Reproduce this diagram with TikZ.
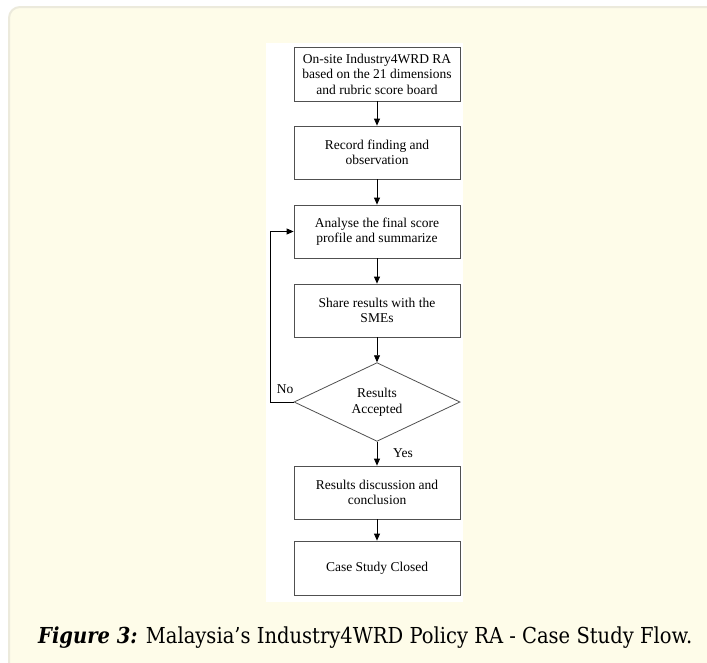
\documentclass[tikz,border=0pt]{standalone}
\usepackage{fontspec}
\setmainfont{Liberation Serif}
\newfontfamily\capfont{DejaVu Serif}
\usepackage{graphicx}
\usetikzlibrary{shapes.geometric,arrows.meta}
\definecolor{cream}{HTML}{FEFCE9}
\definecolor{creamedge}{HTML}{ECEADC}
\definecolor{boxedge}{HTML}{505050}
\tikzset{
  stepbox/.style={rectangle, draw=boxedge, line width=0.8pt, fill=white,
    minimum width=166pt, minimum height=53pt, align=center, inner sep=2pt,
    font=\fontsize{13.5}{15.5}\selectfont},
  decbox/.style={diamond, draw=boxedge, line width=0.8pt, fill=white,
    minimum width=166pt, minimum height=78pt, inner sep=0pt, align=center,
    font=\fontsize{13.5}{15.5}\selectfont},
  arr/.style={draw=black, line width=0.8pt, -{Triangle[length=7pt,width=6pt]}},
  lbl/.style={font=\fontsize{13.5}{15.5}\selectfont, inner sep=0pt}
}
\begin{document}
\begin{tikzpicture}[x=1pt,y=-1pt]
\useasboundingbox (0,0) rectangle (707,662);
\clip (0,0) rectangle (707,662);
\draw[fill=cream, draw=creamedge, line width=2pt, rounded corners=11pt] (9,7) rectangle (730,690);
\fill[white] (266,43) rectangle (463,602);

\node[stepbox, minimum height=54pt] (b1) at (377,74) {On-site Industry4WRD RA\\based on the 21 dimensions\\and rubric score board};
\node[stepbox] (b2) at (377,152.5) {Record finding and\\observation};
\node[stepbox] (b3) at (377,231.5) {Analyse the final score\\profile and summarize};
\node[stepbox] (b4) at (377,310.5) {Share results with the\\SMEs};
\node[decbox] (d) at (377,402) {Results\\Accepted};
\node[stepbox] (b5) at (377,492.5) {Results discussion and\\conclusion};
\node[stepbox, minimum height=54pt] (b6) at (377,568) {Case Study Closed};

\draw[arr] (b1.south) -- (b2.north);
\draw[arr] (b2.south) -- (b3.north);
\draw[arr] (b3.south) -- (b4.north);
\draw[arr] (b4.south) -- (d.north);
\draw[arr] (d.south) -- (b5.north);
\draw[arr] (b5.south) -- (b6.north);

\coordinate (loopx) at (270,0);
\draw[arr] (d.west) -- (d.west -| loopx) |- (b3.west);

\node[lbl] (no) at (285,389) {No};
\node[lbl] (yes) at (403,453) {Yes};

\node[anchor=base west, inner sep=0pt] (cap) at (38,643)
  {\resizebox{654pt}{\height}{\capfont\fontsize{22}{26}\selectfont\textbf{\textit{Figure 3:}} Malaysia’s Industry4WRD Policy RA - Case Study Flow.}};
\end{tikzpicture}
\end{document}
